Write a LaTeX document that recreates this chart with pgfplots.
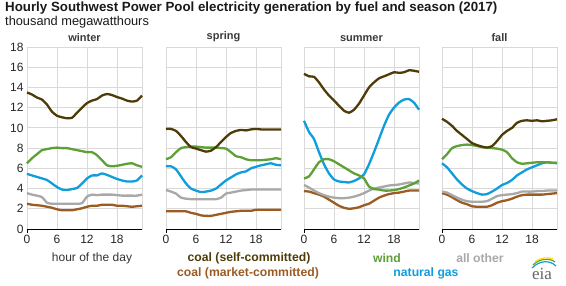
\documentclass[border=0pt]{standalone}
\usepackage{pgfplots}
\pgfplotsset{compat=1.18}
\usepackage{pgfplotstable}
\usepackage{fontspec}
\setmainfont{Liberation Sans}
\newfontfamily\serifeia{Liberation Serif}

\definecolor{cself}{HTML}{4E3C08}
\definecolor{cmarket}{HTML}{9C5B22}
\definecolor{cwind}{HTML}{5E9F36}
\definecolor{cgas}{HTML}{0F9DDB}
\definecolor{cother}{HTML}{A8A8A8}
\definecolor{gridc}{HTML}{D9D9D9}
\definecolor{txt}{HTML}{3A3A3A}

% h  coal self-committed, coal market-committed, wind, natural gas, all other
\pgfplotstableread{
h cs cm wind gas other
0 13.5 2.5 6.5 5.45 3.55
1 13.3 2.4 7.0 5.3 3.4
2 13.0 2.35 7.4 5.15 3.3
3 12.8 2.3 7.8 5.0 3.15
4 12.3 2.2 7.9 4.85 2.6
5 11.6 2.1 8.0 4.5 2.5
6 11.2 1.95 8.05 4.15 2.5
7 11.05 1.85 8.0 3.9 2.5
8 10.95 1.85 8.0 3.85 2.5
9 11.0 1.85 7.9 3.95 2.5
10 11.5 1.95 7.8 4.05 2.5
11 12.0 2.05 7.7 4.5 2.55
12 12.45 2.2 7.6 5.0 3.2
13 12.7 2.3 7.6 5.3 3.4
14 12.85 2.3 7.3 5.3 3.35
15 13.2 2.4 6.8 5.5 3.4
16 13.35 2.4 6.3 5.35 3.4
17 13.25 2.4 6.2 5.15 3.4
18 13.05 2.3 6.25 4.95 3.35
19 12.9 2.3 6.35 4.8 3.3
20 12.7 2.25 6.45 4.7 3.3
21 12.6 2.2 6.5 4.7 3.3
22 12.7 2.25 6.3 4.8 3.3
23 13.2 2.3 6.15 5.3 3.4
}\winter

\pgfplotstableread{
h cs cm wind gas other
0 9.9 1.75 6.9 6.2 3.85
1 9.9 1.75 7.1 6.2 3.7
2 9.7 1.75 7.6 5.9 3.5
3 9.2 1.75 8.0 5.2 3.1
4 8.6 1.75 8.1 4.5 3.0
5 8.1 1.6 8.15 4.0 2.95
6 7.95 1.5 8.15 3.8 2.95
7 7.8 1.35 8.1 3.65 2.95
8 7.65 1.3 8.05 3.7 2.95
9 7.75 1.3 8.05 3.8 2.95
10 8.1 1.4 8.05 4.0 2.95
11 8.6 1.5 8.0 4.4 3.1
12 9.1 1.6 7.95 4.8 3.5
13 9.5 1.7 7.6 5.1 3.6
14 9.7 1.75 7.2 5.4 3.7
15 9.8 1.8 7.1 5.6 3.8
16 9.75 1.8 6.9 5.7 3.85
17 9.85 1.8 6.8 6.0 3.9
18 9.9 1.9 6.8 6.15 3.9
19 9.85 1.9 6.8 6.3 3.9
20 9.85 1.9 6.85 6.4 3.9
21 9.85 1.9 6.9 6.5 3.9
22 9.85 1.9 7.0 6.35 3.9
23 9.85 1.9 6.9 6.3 3.9
}\spring

\pgfplotstableread{
h cs cm wind gas other
0 15.35 3.75 5.0 10.7 4.35
1 15.1 3.7 5.2 9.6 4.1
2 15.05 3.55 5.9 8.9 3.8
3 14.5 3.4 6.6 7.6 3.55
4 13.8 3.2 6.9 6.4 3.35
5 13.2 2.9 6.9 5.5 3.2
6 12.7 2.6 6.7 4.9 3.1
7 12.2 2.3 6.4 4.7 3.05
8 11.7 2.1 6.1 4.65 3.05
9 11.5 2.0 5.8 4.6 3.1
10 11.8 2.05 5.5 4.75 3.2
11 12.4 2.15 5.3 5.0 3.35
12 13.2 2.35 5.0 5.4 3.55
13 14.0 2.5 4.2 6.4 3.8
14 14.5 2.8 3.95 7.6 4.0
15 14.9 3.1 3.9 8.9 4.1
16 15.1 3.3 3.8 10.2 4.2
17 15.3 3.45 3.8 11.3 4.3
18 15.5 3.55 3.85 12.0 4.35
19 15.45 3.6 3.95 12.5 4.4
20 15.5 3.7 4.1 12.8 4.5
21 15.7 3.8 4.3 12.85 4.6
22 15.65 3.8 4.5 12.5 4.55
23 15.55 3.8 4.8 11.8 4.5
}\summer

\pgfplotstableread{
h cs cm wind gas other
0 10.9 3.55 6.9 6.5 3.7
1 10.6 3.4 7.4 6.1 3.6
2 10.2 3.15 8.0 5.5 3.35
3 9.7 2.85 8.2 4.9 3.1
4 9.3 2.6 8.3 4.4 2.9
5 8.9 2.45 8.35 4.0 2.75
6 8.5 2.25 8.3 3.75 2.7
7 8.3 2.2 8.2 3.55 2.7
8 8.15 2.2 8.1 3.4 2.7
9 8.05 2.2 8.05 3.45 2.75
10 8.2 2.35 8.0 3.7 3.0
11 8.7 2.6 7.95 4.0 3.25
12 9.3 2.75 7.85 4.35 3.35
13 9.7 2.85 7.6 4.55 3.4
14 10.0 3.0 7.0 4.85 3.45
15 10.5 3.2 6.6 5.3 3.55
16 10.7 3.35 6.45 5.6 3.7
17 10.75 3.4 6.5 5.9 3.7
18 10.7 3.4 6.55 6.1 3.7
19 10.75 3.4 6.6 6.3 3.75
20 10.65 3.4 6.6 6.5 3.75
21 10.7 3.45 6.6 6.6 3.8
22 10.75 3.5 6.55 6.55 3.8
23 10.85 3.55 6.55 6.5 3.8
}\fall

\pgfplotsset{
  season/.style={
    width=115pt, height=182pt, scale only axis,
    anchor=south west,
    xmin=0, xmax=23, ymin=0, ymax=18,
    xtick={0,6,12,18}, ytick={0,2,...,18},
    grid=major, major grid style={gridc, line width=0.8pt},
    axis line style={gridc, line width=0.8pt},
    major tick length=0pt,
    tick label style={font=\fontsize{12}{12}\selectfont, text=black!85},
    /pgf/number format/assume math mode=true,
    xticklabel style={yshift=-3pt},
    title style={font=\bfseries\fontsize{11}{11}\selectfont, text=txt, yshift=-4pt},
    every axis plot/.append style={no marks, line width=2.3pt, smooth, tension=0.35, line join=round},
    clip=false,
  },
  noy/.style={yticklabels={}},
}

\newcommand{\fiveplots}[1]{%
  \addplot[cmarket] table[x=h, y=cm] {#1};
  \addplot[cother] table[x=h, y=other] {#1};
  \addplot[cgas] table[x=h, y=gas] {#1};
  \addplot[cwind] table[x=h, y=wind] {#1};
  \addplot[cself] table[x=h, y=cs] {#1};
  \draw[black, line width=0.9pt] (rel axis cs:0,0) -- (rel axis cs:1,0);
  \draw[black, line width=0.9pt] (rel axis cs:0,0) -- ++(0,-4pt);
}

\begin{document}
\begin{tikzpicture}
\useasboundingbox (0,0) rectangle (566pt,285pt);

\node[anchor=west, font=\bfseries\fontsize{13.3}{13.3}\selectfont, text=black!90, inner sep=0pt] at (5pt,277pt)
  {Hourly Southwest Power Pool electricity generation by fuel and season (2017)};
\node[anchor=west, font=\fontsize{12.8}{12.8}\selectfont, text=black!90, inner sep=0pt] at (5pt,263pt)
  {thousand megawatthours};

\begin{axis}[season, at={(27pt,56pt)}, title={winter}]
\fiveplots{\winter}
\end{axis}
\begin{axis}[season, noy, at={(166pt,56pt)}, title={spring}]
\fiveplots{\spring}
\end{axis}
\begin{axis}[season, noy, at={(304pt,56pt)}, title={summer}]
\fiveplots{\summer}
\end{axis}
\begin{axis}[season, noy, at={(442pt,56pt)}, title={fall}]
\fiveplots{\fall}
\end{axis}

\node[font=\fontsize{12}{12}\selectfont, text=black!80] at (92pt,27pt) {hour of the day};

\begin{scope}[every node/.style={font=\bfseries\fontsize{12.2}{12.2}\selectfont, inner sep=0pt}]
\node[text=cself] at (249pt,27pt) {coal (self-committed)};
\node[text=cmarket] at (248pt,12pt) {coal (market-committed)};
\node[text=cwind] at (387pt,27pt) {wind};
\node[text=cgas] at (426pt,12pt) {natural gas};
\node[text=cother] at (480pt,27pt) {all other};
\end{scope}

% eia logo
\node[font=\serifeia\fontsize{17}{17}\selectfont, text=black!60, inner sep=0pt] at (542pt,11pt) {eia};
\draw[cgas, line width=1.2pt] (532pt,17pt) .. controls (540pt,25pt) and (550pt,25pt) .. (556pt,19pt);
\draw[cwind, line width=1.2pt] (533pt,20pt) .. controls (540pt,27pt) and (550pt,27pt) .. (555pt,23pt);
\draw[yellow!80!orange, line width=1.2pt] (535pt,23pt) .. controls (541pt,28pt) and (549pt,28pt) .. (553pt,26pt);
\end{tikzpicture}
\end{document}
